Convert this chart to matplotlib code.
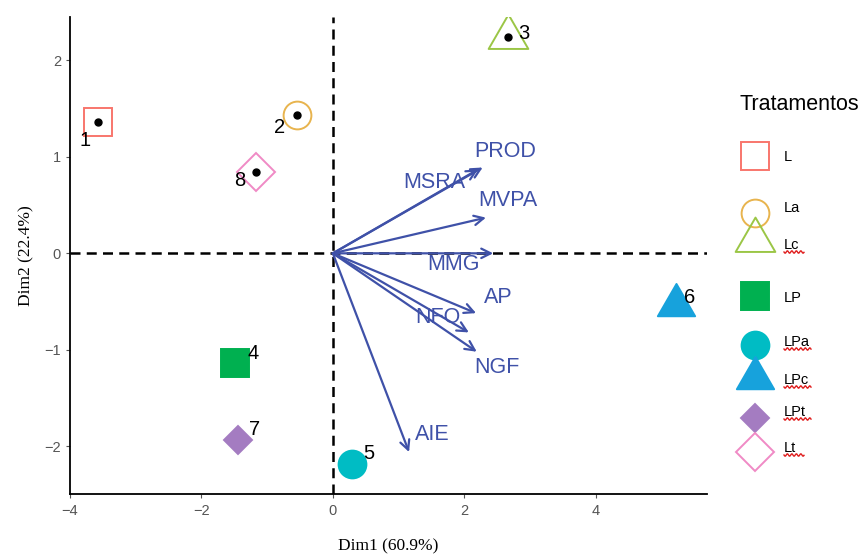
import numpy as np
import matplotlib
matplotlib.use("Agg")
import matplotlib.pyplot as plt
from matplotlib.path import Path

# individuals (treatments) on the PCA plane
ind_ids = ["1", "2", "3", "4", "5", "6", "7", "8"]
ind_x = [-3.58, -0.55, 2.66, -1.49, 0.29, 5.22, -1.45, -1.17]
ind_y = [1.36, 1.43, 2.24, -1.14, -2.18, -0.54, -1.94, 0.84]
ind_lab_x = [-3.77, -0.81, 2.91, -1.22, 0.55, 5.43, -1.19, -1.42]
ind_lab_y = [1.17, 1.30, 2.28, -1.04, -2.07, -0.46, -1.83, 0.76]
ind_trat = ["L", "La", "Lc", "LP", "LPa", "LPc", "LPt", "Lt"]

# variables (arrows)
var_names = ["PROD", "MSRA", "MVPA", "MMG", "AP", "NFO", "NGF", "AIE"]
var_x = [2.28, 2.21, 2.33, 2.44, 2.18, 2.07, 2.19, 1.16]
var_y = [0.89, 0.87, 0.37, 0.00, -0.62, -0.82, -1.02, -2.06]
var_lab_x = [2.63, 1.55, 2.66, 1.83, 2.51, 1.60, 2.50, 1.52]
var_lab_y = [1.06, 0.73, 0.55, -0.12, -0.46, -0.67, -1.18, -1.88]

# treatment styles: marker, colour, filled, size (pt)
tri = Path([(-1, -0.577), (1, -0.577), (0, 1.155), (-1, -0.577)],
           [Path.MOVETO, Path.LINETO, Path.LINETO, Path.CLOSEPOLY])
styles = {
    "L":   ("s", "#F8766D", False, 20),
    "La":  ("o", "#E8B44E", False, 20),
    "Lc":  (tri, "#9BC646", False, 33),
    "LP":  ("s", "#00B050", True, 19.5),
    "LPa": ("o", "#00BCC4", True, 20),
    "LPc": (tri, "#17A2DC", True, 31),
    "LPt": ("D", "#A47CC1", True, 14.3),
    "Lt":  ("D", "#F08AC5", False, 19),
}
arrow_col = "#3F51A8"

fig = plt.figure(figsize=(8.64, 5.59), dpi=100)
ax = fig.add_axes([0.081, 0.1154, 0.737, 0.8542])

ax.axhline(0, color="black", lw=1.8, ls=(0, (4, 2.5)), zorder=1)
ax.axvline(0, color="black", lw=1.8, ls=(0, (4, 2.5)), zorder=1)

for x, y, t, lid, lx, ly in zip(ind_x, ind_y, ind_trat, ind_ids, ind_lab_x, ind_lab_y):
    m, c, filled, ms = styles[t]
    ax.plot(x, y, "o", color="black", ms=5, zorder=2)
    ax.plot(x, y, marker=m, ms=ms, mfc=c if filled else "none", mec=c,
            mew=1.4, ls="none", zorder=3)
    ax.text(lx, ly, lid, fontsize=14.5, family="Liberation Sans",
            ha="center", va="center", zorder=4)

for vx, vy, name, lx, ly in zip(var_x, var_y, var_names, var_lab_x, var_lab_y):
    ax.annotate("", xy=(vx, vy), xytext=(0, 0),
                arrowprops=dict(arrowstyle="->", color=arrow_col, lw=1.6,
                                mutation_scale=17, shrinkA=0, shrinkB=0),
                zorder=5)
    ax.text(lx, ly, name, color=arrow_col, fontsize=15.5,
            family="Liberation Sans", ha="center", va="center", zorder=6)

ax.set_xlim(-4.0, 5.69)
ax.set_ylim(-2.50, 2.45)
ax.set_xticks([-4, -2, 0, 2, 4])
ax.set_yticks([-2, -1, 0, 1, 2])
ax.set_xticklabels(["\u22124", "\u22122", "0", "2", "4"])
ax.set_yticklabels(["\u22122", "\u22121", "0", "1", "2"])
for s in ["top", "right"]:
    ax.spines[s].set_visible(False)
for s in ["left", "bottom"]:
    ax.spines[s].set_linewidth(1.3)
ax.tick_params(colors="#555555", labelsize=10.5, length=3, width=0.8)
for lbl in ax.get_xticklabels() + ax.get_yticklabels():
    lbl.set_family("Liberation Sans")
ax.set_xlabel("Dim1 (60.9%)", family="Liberation Serif", fontsize=12.5, labelpad=15)
ax.set_ylabel("Dim2 (22.4%)", family="Liberation Serif", fontsize=12.5, labelpad=7)

# legend drawn by hand in pixel coordinates
lg = fig.add_axes([720 / 864, 0, 144 / 864, 1])
lg.set_xlim(720, 864)
lg.set_ylim(559, 0)
lg.axis("off")
lg.text(740, 104, "Tratamentos", fontsize=15.5, family="Liberation Sans",
        ha="left", va="center")
leg_y = [156, 213, 240, 296, 345, 378, 418, 452]
leg_lab_y = [157, 208, 245, 298, 342, 380, 412, 448]
squiggle = ["Lc", "LPa", "LPc", "LPt", "Lt"]
for t, yy, ly in zip(ind_trat, leg_y, leg_lab_y):
    m, c, filled, ms = styles[t]
    lg.plot(755, yy, marker=m, ms=ms, mfc=c if filled else "none", mec=c,
            mew=1.4, ls="none")
    lg.text(784, ly, t, fontsize=10.5, family="Liberation Sans",
            ha="left", va="center")
    if t in squiggle:
        w = 6 + 7 * len(t)
        sx = np.linspace(784, 784 + w, 40)
        lg.plot(sx, ly + 7 + 1.2 * np.sin((sx - 784) * 1.4), color="#E02020", lw=1.0)

fig.savefig("out.png", dpi=100)
